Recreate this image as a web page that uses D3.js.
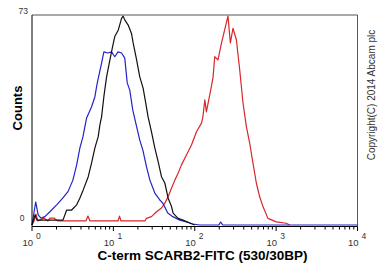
<!DOCTYPE html>
<html>
<head>
<meta charset="utf-8">
<script src="https://cdn.jsdelivr.net/npm/d3@7"></script>
<style>
    body { margin: 0; background: #fff; }
    svg { display: block; font-family: "Liberation Sans", Arial, sans-serif; }
</style>
</head>
<body>
<div id="chart"></div>
<script>
//histogram data (FITC intensity, counts)
const blueIntensity = [1.0, 1.11, 1.19, 1.29, 1.44, 1.66, 2.01, 2.40, 2.77, 3.18,
    3.54, 3.88, 4.23, 4.69, 5.40, 5.93, 6.22, 6.45, 7.16, 7.64,
    8.57, 9.50, 10.4, 11.4, 12.6, 13.8, 14.8, 15.9, 17.3, 19.3,
    21.1, 23.0, 25.5, 28.1, 32.3, 37.2, 40.5, 46.6, 53.7, 65.5,
    79.1, 94.5, 115, 197, 208, 221, 10000];
const blueCounts = [0, 8.0, 3.5, 2.4, 2.9, 4.6, 7.0, 9.4, 11.6, 15.6,
    20.9, 26.8, 30.7, 37.2, 41.1, 44.6, 48.1, 50.4, 56.3, 60.2,
    59.8, 60.2, 58.5, 60.2, 59.8, 58.0, 49.4, 46.9, 40.0, 34.2,
    29.5, 26.1, 20.3, 15.6, 11.1, 8.7, 7.6, 4.2, 2.9, 1.7,
    1.1, 0.35, 0, 0, 1.0, 0, 0];

const blackIntensity = [1.0, 1.09, 1.15, 2.40, 2.67, 3.07, 3.54, 3.88, 4.26, 4.91,
    5.40, 5.93, 6.51, 6.83, 7.16, 7.64, 8.25, 9.06, 9.78, 10.4,
    11.5, 12.6, 13.2, 13.8, 15.2, 16.7, 17.5, 19.3, 21.1, 23.2,
    25.0, 26.7, 29.4, 32.3, 35.5, 39.0, 42.9, 47.0, 51.8, 54.2,
    62.4, 71.8, 86.8, 100];
const blackCounts = [0, 3.5, 1.7, 1.7, 5.2, 5.2, 7.0, 9.4, 12.2, 16.8,
    21.6, 26.8, 30.7, 34.8, 37.6, 44.6, 51.5, 57.4, 62.0, 65.5,
    67.8, 71.8, 72.6, 71.3, 69.5, 66.6, 63.3, 57.4, 51.5, 47.6,
    42.4, 37.6, 32.4, 26.8, 22.0, 16.8, 14.6, 9.4, 6.4, 4.1,
    2.3, 1.7, 0.7, 0];

const redIntensity = [1.0, 1.06, 1.12, 1.18, 1.40, 1.57, 1.66, 1.86, 2.08,
    4.60, 4.87, 5.15, 11.4, 11.9, 12.4,
    24.4, 25.5, 29.4, 33.9, 39.0, 42.9, 47.0, 51.8, 56.9, 62.4, 68.7, 79.1, 91.2, 105, 121,
    126, 133, 139, 146, 160, 168, 176, 193, 213, 233, 256,
    274, 295, 325, 357, 392, 431, 473, 519, 571, 628, 689, 793, 1005, 1334, 1465];
const redCounts = [0, 1.4, 3.8, 1.4, 2.4, 1.4, 2.4, 2.4, 1.4,
    1.4, 3.1, 1.4, 1.4, 3.1, 1.4,
    1.4, 2.3, 2.9, 4.6, 5.9, 7.6, 9.8, 12.8, 15.6, 18.0, 20.9, 24.3, 27.8, 32.4, 35.4,
    37.6, 43.5, 39.3, 42.4, 48.1, 51.5, 58.5, 57.4, 63.2, 67.8, 72.6,
    63.3, 68.4, 64.3, 53.9, 42.4, 34.2, 28.5, 21.6, 14.6, 9.8, 6.4, 2.3, 1.1, 0.6, 0];

const xDomain = [1, 10000];
const yDomain = [0, 73];
const decades = [0, 1, 2, 3, 4];
const xTitle = "C-term SCARB2-FITC (530/30BP)";
const yTitle = "Counts";
const copyright = "Copyright(C) 2014 Abcam plc";

const series = [
    { color: "#d8262b", xs: redIntensity, ys: redCounts },
    { color: "#2323c8", xs: blueIntensity, ys: blueCounts },
    { color: "#111111", xs: blackIntensity, ys: blackCounts }
];

const W = 382, H = 279;
const plot = { left: 32, right: 357.5, top: 15, bottom: 226.5, zero: 225 };

const svg = d3.select("#chart").append("svg")
    .attr("width", W)
    .attr("height", H);

const x = d3.scaleLog().domain(xDomain).range([plot.left, plot.right]);
const y = d3.scaleLinear().domain(yDomain).range([plot.zero, plot.top]);

//frame: grey top/right, black left/bottom
svg.append("path")
    .attr("d", `M${plot.left},${plot.top}H${plot.right}V${plot.bottom}`)
    .attr("fill", "none")
    .attr("stroke", "#555")
    .attr("stroke-width", 1);

//histograms
const line = d3.line()
    .x(d => x(d[0]))
    .y(d => y(d[1]));

series.forEach(s => {
    svg.append("path")
        .datum(s.xs.map((v, i) => [v, s.ys[i]]))
        .attr("d", line)
        .attr("fill", "none")
        .attr("stroke", s.color)
        .attr("stroke-width", 1.2)
        .attr("stroke-linejoin", "round");
});

svg.append("line")
    .attr("x1", plot.left).attr("x2", plot.left)
    .attr("y1", plot.top).attr("y2", plot.bottom)
    .attr("stroke", "#000");

//x axis with log ticks
const xAxis = svg.append("g");
xAxis.append("line")
    .attr("x1", plot.left).attr("x2", plot.right)
    .attr("y1", plot.bottom).attr("y2", plot.bottom)
    .attr("stroke", "#000");

xAxis.selectAll("line.tick")
    .data(x.ticks())
    .enter().append("line")
    .attr("class", "tick")
    .attr("x1", d => x(d)).attr("x2", d => x(d))
    .attr("y1", plot.bottom)
    .attr("y2", d => plot.bottom + (Math.log10(d) % 1 === 0 ? 4.5 : 3))
    .attr("stroke", "#000");

const lbl = xAxis.selectAll("g.lbl")
    .data(decades)
    .enter().append("g")
    .attr("class", "lbl");
lbl.append("text")
    .attr("x", d => x(Math.pow(10, d)) + 1)
    .attr("y", 246)
    .attr("text-anchor", "end")
    .attr("font-size", 9.5)
    .attr("fill", "#333")
    .text("10");
lbl.append("text")
    .attr("x", d => x(Math.pow(10, d)) + 4)
    .attr("y", 238.5)
    .attr("font-size", 8.5)
    .attr("fill", "#333")
    .text(d => d);

//y labels
svg.append("text")
    .attr("x", 24.5).attr("y", 221)
    .attr("text-anchor", "end")
    .attr("font-size", 8.5)
    .attr("fill", "#333")
    .text(yDomain[0]);
svg.append("text")
    .attr("x", 28).attr("y", 13.5)
    .attr("text-anchor", "end")
    .attr("font-size", 8.5)
    .attr("fill", "#333")
    .text(yDomain[1]);

//titles
svg.append("text")
    .attr("x", 202.5).attr("y", 260)
    .attr("text-anchor", "middle")
    .attr("font-size", 13.5)
    .attr("font-weight", "bold")
    .text(xTitle);

svg.append("text")
    .attr("transform", "translate(22,108) rotate(-90)")
    .attr("text-anchor", "middle")
    .attr("font-size", 13)
    .attr("font-weight", "bold")
    .text(yTitle);

svg.append("text")
    .attr("transform", "translate(375,95) rotate(-90)")
    .attr("text-anchor", "middle")
    .attr("font-size", 10)
    .attr("fill", "#333")
    .text(copyright);
</script>
</body>
</html>
